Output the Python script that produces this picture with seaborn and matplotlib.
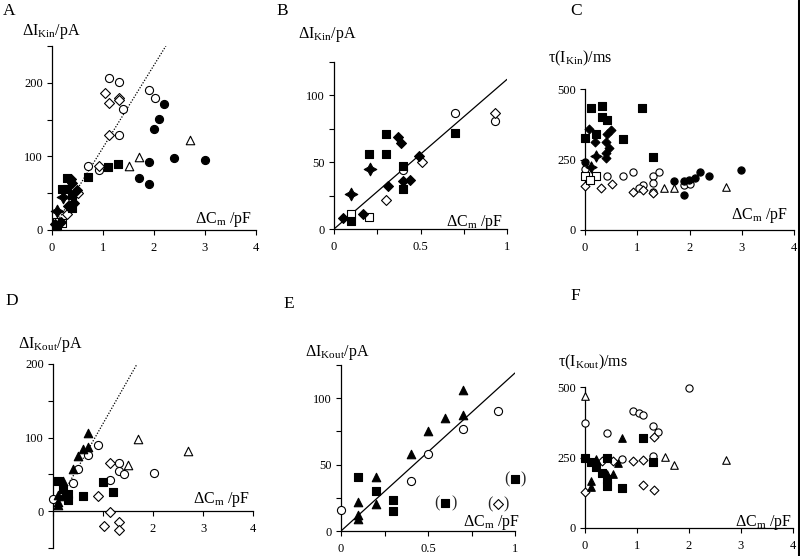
import numpy as np
import matplotlib
matplotlib.use("Agg")
import matplotlib.pyplot as plt
import seaborn as sns
from matplotlib.lines import Line2D

# ---------------- data: ΔI_Kin vs ΔCm (panels A and B) ----------------
kin_fsq_cm = [0.30, 0.20, 0.30, 0.40, 0.40, 0.10, 0.70, 1.10, 1.30]
kin_fsq_dI = [71, 56, 56, 47, 30, 6, 72, 85, 89]
kin_osq_cm = [0.10, 0.20]
kin_osq_dI = [11, 9]
kin_fdi_cm = [0.05, 0.17, 0.31, 0.37, 0.39, 0.40, 0.44, 0.49]
kin_fdi_dI = [8, 11, 32, 69, 64, 36, 37, 55]
kin_odi_cm = [0.30, 0.51, 0.93, 1.03, 1.12, 1.31, 1.32, 1.11]
kin_odi_dI = [22, 50, 87, 186, 173, 180, 176, 129]
kin_oci_cm = [0.40, 0.70, 0.93, 1.11, 1.31, 1.91, 2.01, 1.40, 1.31]
kin_oci_dI = [44, 87, 81, 206, 201, 190, 180, 165, 129]
kin_fci_cm = [2.20, 2.10, 2.00, 2.40, 3.00, 1.90, 1.70, 1.90]
kin_fci_dI = [171, 151, 137, 98, 95, 92, 71, 62]
kin_otr_cm = [2.70, 1.70, 1.50]
kin_otr_dI = [122, 99, 87]
kin_star_cm = [0.10, 0.21]
kin_star_dI = [26, 45]
kin_slope = 112  # pA / pF

# ---------------- data: tau(I_Kin) vs ΔCm (panel C) ----------------
tkin_fsq_cm = [0.11, 0.32, 0.32, 0.43, 0.22, 0.00, 0.72, 1.10, 1.31]
tkin_fsq_tau = [432, 438, 400, 389, 340, 326, 323, 432, 258]
tkin_fdi_cm = [0.08, 0.20, 0.40, 0.49, 0.43, 0.46, 0.40, 0.40]
tkin_fdi_tau = [359, 312, 312, 353, 341, 290, 272, 255]
tkin_star_cm = [0.22, 0.11]
tkin_star_tau = [261, 224]
tkin_fci_cm = [1.71, 1.89, 1.99, 2.10, 2.20, 2.38, 2.99, 1.89, 0.00]
tkin_fci_tau = [175, 172, 178, 186, 205, 192, 211, 124, 240]
tkin_oci_cm = [0.00, 0.43, 0.72, 0.92, 1.11, 1.31, 1.41, 1.31, 1.03, 1.89, 2.00, 1.31]
tkin_oci_tau = [216, 190, 190, 205, 160, 190, 205, 166, 150, 158, 162, 136]
tkin_odi_cm = [0.00, 0.31, 0.51, 0.92, 1.11, 1.31]
tkin_odi_tau = [156, 150, 162, 133, 142, 130]
tkin_osq_cm = [0.00, 0.22, 0.10]
tkin_osq_tau = [190, 193, 178]
tkin_otr_cm = [1.51, 1.71, 2.69]
tkin_otr_tau = [148, 148, 152]

# ---------------- data: ΔI_Kout vs ΔCm (panels D and E) ----------------
kout_ftr_cm = [0.70, 0.70, 0.60, 0.50, 0.40, 0.20, 0.10, 0.20, 0.10, 0.10]
kout_ftr_dI = [106, 87, 85, 75, 58, 41, 22, 20, 12, 9]
kout_fsq_cm = [0.10, 0.20, 0.30, 0.30, 0.60, 1.00, 1.20]
kout_fsq_dI = [41, 30, 23, 15, 21, 39, 26]
kout_fsq_excluded = [False, False, False, False, True, True, False]
kout_oci_cm = [0.00, 0.40, 0.50, 0.70, 0.90, 1.13, 1.31, 1.31, 1.41, 2.02]
kout_oci_dI = [16, 38, 58, 77, 90, 42, 66, 55, 51, 52]
kout_odi_cm = [0.90, 1.13, 1.13, 1.01, 1.32, 1.32]
kout_odi_dI = [20, 65, -1, -20, -15, -25]
kout_odi_excluded = [True, False, False, False, False, False]
kout_otr_cm = [1.70, 2.70, 1.50]
kout_otr_dI = [98, 82, 63]
kout_slope = 119  # pA / pF

# ---------------- data: tau(I_Kout) vs ΔCm (panel F) ----------------
tkout_fsq_cm = [0.00, 0.11, 0.21, 0.32, 0.43, 0.43, 0.43, 0.72, 1.12, 1.31]
tkout_fsq_tau = [250, 235, 218, 194, 247, 174, 149, 141, 320, 235]
tkout_ftr_cm = [0.72, 0.11, 0.11, 0.22, 0.43, 0.53, 0.63]
tkout_ftr_tau = [318, 165, 145, 243, 190, 192, 232]
tkout_oci_cm = [0.00, 0.43, 0.92, 1.03, 1.12, 1.31, 1.41, 1.31, 0.72, 2.00]
tkout_oci_tau = [373, 338, 415, 408, 402, 361, 341, 256, 244, 498]
tkout_odi_cm = [0.00, 0.32, 0.53, 0.92, 1.12, 1.12, 1.33, 1.33]
tkout_odi_tau = [126, 238, 238, 239, 241, 153, 133, 324]
tkout_otr_cm = [0.00, 1.53, 1.71, 2.72]
tkout_otr_tau = [467, 251, 224, 241]

# ---------------- ticks / labels ----------------
cm4_ticks = [0, 1, 2, 3, 4]
cm4_labels = ["0", "1", "2", "3", "4"]
cm4_labels_D = ["", "", "2", "3", "4"]
cm1_ticks = [0, 0.25, 0.5, 0.75, 1]
cm1_labels = ["0", "", "0.5", "", "1"]
dIA_ticks = [0, 50, 100, 150, 200, 250]
dIA_labels = ["0", "", "100", "", "200", ""]
dID_ticks = [-50, 0, 50, 100, 150, 200]
dID_labels = ["", "0", "", "100", "", "200"]
dIB_ticks = [0, 25, 50, 75, 100, 125]
dIB_labels = ["0", "", "50", "", "100", ""]
tau_ticks = [0, 250, 500]
tau_labels = ["0", "250", "500"]

panel_letters = ["A", "B", "C", "D", "E", "F"]
lab_dIkin = r"ΔI$_{\rm Kin}$/pA"
lab_dIkout = r"ΔI$_{\rm Kout}$/pA"
lab_tkin = r"τ(I$_{\rm Kin}$)/ms"
lab_tkout = r"τ(I$_{\rm Kout}$)/ms"
lab_cm = r"ΔC$_{\rm m}$ /pF"

# ---------------- style ----------------
sns.set_theme(style="ticks")
plt.rcParams["font.family"] = ["Liberation Serif", "DejaVu Serif"]
plt.rcParams["mathtext.fontset"] = "custom"
plt.rcParams["mathtext.rm"] = "Liberation Serif"
plt.rcParams["mathtext.it"] = "Liberation Serif:italic"
plt.rcParams["mathtext.bf"] = "Liberation Serif:bold"

W, H = 800, 556
fig = plt.figure(figsize=(W / 100, H / 100), dpi=100)
fig.patch.set_facecolor("white")

STY = {
    "fsq": ("s", "black"), "osq": ("s", "white"),
    "fdi": ("D", "black"), "odi": ("D", "white"),
    "fci": ("o", "black"), "oci": ("o", "white"),
    "ftr": ("^", "black"), "otr": ("^", "white"),
    "star": ((4, 1, 0), "black"),
}


def add_ax(x0, x1, ytop, ybot):
    ax = fig.add_axes([x0 / W, 1 - ybot / H, (x1 - x0) / W, (ybot - ytop) / H])
    ax.set_facecolor("none")
    return ax


def pts(ax, xs, ys, kind, s):
    mk, face = STY[kind]
    size = s
    if kind == "star":
        size = s * 2.4
    elif kind in ("fdi", "odi"):
        size = s * 0.75
    elif kind in ("ftr", "otr"):
        size = s * 1.1
    sns.scatterplot(x=list(xs), y=list(ys), ax=ax, marker=mk, s=size, color=face,
                    edgecolor="black", linewidth=0.8, clip_on=False, zorder=3,
                    legend=False)


def fitline(ax, slope, xmax, ls):
    fx = np.array([0.0, xmax])
    sns.lineplot(x=fx, y=slope * fx, ax=ax, color="black", lw=0.9,
                 linestyle=ls, zorder=2, legend=False)


def style_ax(ax, xlim, ylim, xt, xtl, yt, ytl):
    ax.set_xlim(xlim)
    ax.set_ylim(ylim)
    ax.set_xticks(xt)
    ax.set_xticklabels(xtl)
    ax.set_yticks(yt)
    ax.set_yticklabels(ytl)
    ax.set_xlabel("")
    ax.set_ylabel("")
    for s in ["top", "right"]:
        ax.spines[s].set_visible(False)
    for s in ["left", "bottom"]:
        ax.spines[s].set_linewidth(0.9)
        ax.spines[s].set_color("black")
    ax.tick_params(direction="out", length=3.5, width=0.8, labelsize=9,
                   colors="black")
    ax.tick_params(axis="y", pad=3)
    ax.tick_params(axis="x", pad=5)


def ftext(x, y, s, size=11, ha="left"):
    fig.text(x / W, 1 - y / H, s, fontsize=size, ha=ha, va="baseline",
             color="black")


S_BIG = 34
S_SMALL = 27

# ---------- Panel A ----------
axA = add_ax(52, 256, 46, 230)
fitline(axA, kin_slope, 250 / kin_slope, (0, (1, 1.3)))
pts(axA, kin_otr_cm, kin_otr_dI, "otr", S_BIG)
pts(axA, kin_oci_cm, kin_oci_dI, "oci", S_BIG)
pts(axA, kin_odi_cm, kin_odi_dI, "odi", S_BIG)
pts(axA, kin_osq_cm, kin_osq_dI, "osq", S_BIG)
pts(axA, kin_fci_cm, kin_fci_dI, "fci", S_BIG)
pts(axA, kin_fsq_cm, kin_fsq_dI, "fsq", S_BIG)
pts(axA, kin_fdi_cm, kin_fdi_dI, "fdi", S_BIG)
pts(axA, kin_star_cm, kin_star_dI, "star", S_BIG)
style_ax(axA, (0, 4), (0, 250), cm4_ticks, cm4_labels, dIA_ticks, dIA_labels)

# ---------- Panel B ----------
axB = add_ax(334, 507, 62, 229)
fitline(axB, kin_slope, 1.0, "-")


def sel(xs, ys, xmax):
    keep = [i for i, v in enumerate(xs) if v <= xmax + 1e-9]
    return [xs[i] for i in keep], [ys[i] for i in keep]


for kind, xs, ys in [("oci", kin_oci_cm, kin_oci_dI), ("odi", kin_odi_cm, kin_odi_dI),
                     ("osq", kin_osq_cm, kin_osq_dI), ("fsq", kin_fsq_cm, kin_fsq_dI),
                     ("fdi", kin_fdi_cm, kin_fdi_dI), ("star", kin_star_cm, kin_star_dI)]:
    sx, sy = sel(xs, ys, 1.0)
    if sx:
        pts(axB, sx, sy, kind, S_BIG)
style_ax(axB, (0, 1), (0, 125), cm1_ticks, cm1_labels, dIB_ticks, dIB_labels)

# ---------- Panel C ----------
axC = add_ax(585, 794, 89, 230)
pts(axC, tkin_otr_cm, tkin_otr_tau, "otr", S_SMALL)
pts(axC, tkin_oci_cm, tkin_oci_tau, "oci", S_SMALL)
pts(axC, tkin_odi_cm, tkin_odi_tau, "odi", S_SMALL)
pts(axC, tkin_osq_cm, tkin_osq_tau, "osq", S_SMALL)
pts(axC, tkin_fci_cm, tkin_fci_tau, "fci", S_SMALL)
pts(axC, tkin_fsq_cm, tkin_fsq_tau, "fsq", S_SMALL)
pts(axC, tkin_fdi_cm, tkin_fdi_tau, "fdi", S_SMALL)
pts(axC, tkin_star_cm, tkin_star_tau, "star", S_SMALL)
style_ax(axC, (0, 4), (0, 500), cm4_ticks, cm4_labels, tau_ticks, tau_labels)

# ---------- Panel D ----------
axD = add_ax(53, 253, 364, 548)
fitline(axD, kout_slope, 200 / kout_slope, (0, (1, 1.3)))
pts(axD, kout_otr_cm, kout_otr_dI, "otr", S_BIG)
pts(axD, kout_oci_cm, kout_oci_dI, "oci", S_BIG)
pts(axD, kout_odi_cm, kout_odi_dI, "odi", S_BIG)
pts(axD, kout_fsq_cm, kout_fsq_dI, "fsq", S_BIG)
pts(axD, kout_ftr_cm, kout_ftr_dI, "ftr", S_BIG)
style_ax(axD, (0, 4), (-50, 200), cm4_ticks, cm4_labels_D, dID_ticks, dID_labels)
axD.spines["bottom"].set_position(("data", 0))

# ---------- Panel E ----------
axE = add_ax(341, 515, 365, 531)
fitline(axE, kout_slope, 1.0, "-")
for kind, xs, ys in [("oci", kout_oci_cm, kout_oci_dI), ("odi", kout_odi_cm, kout_odi_dI),
                     ("fsq", kout_fsq_cm, kout_fsq_dI), ("ftr", kout_ftr_cm, kout_ftr_dI)]:
    sx, sy = sel(xs, ys, 1.0)
    keep = [(a, b) for a, b in zip(sx, sy) if b >= 0]
    if keep:
        pts(axE, [k[0] for k in keep], [k[1] for k in keep], kind, S_BIG)
for xs, ys, exc in [(kout_fsq_cm, kout_fsq_dI, kout_fsq_excluded),
                    (kout_odi_cm, kout_odi_dI, kout_odi_excluded)]:
    for xv, yv, e in zip(xs, ys, exc):
        if e and xv <= 1.0 + 1e-9:
            axE.annotate("(", xy=(xv, yv), xytext=(-8, 0), textcoords="offset pixels",
                         ha="center", va="center", fontsize=11.5, annotation_clip=False)
            axE.annotate(")", xy=(xv, yv), xytext=(8.5, 0), textcoords="offset pixels",
                         ha="center", va="center", fontsize=11.5, annotation_clip=False)
style_ax(axE, (0, 1), (0, 125), cm1_ticks, cm1_labels, dIB_ticks, dIB_labels)

# ---------- Panel F ----------
axF = add_ax(585, 793, 387, 528)
pts(axF, tkout_otr_cm, tkout_otr_tau, "otr", S_SMALL)
pts(axF, tkout_oci_cm, tkout_oci_tau, "oci", S_SMALL)
pts(axF, tkout_odi_cm, tkout_odi_tau, "odi", S_SMALL)
pts(axF, tkout_fsq_cm, tkout_fsq_tau, "fsq", S_SMALL)
pts(axF, tkout_ftr_cm, tkout_ftr_tau, "ftr", S_SMALL)
style_ax(axF, (0, 4), (0, 500), cm4_ticks, cm4_labels, tau_ticks, tau_labels)

# ---------- texts ----------
ftext(3, 15, panel_letters[0], 12.5)
ftext(276, 15, panel_letters[1], 12.5)
ftext(570, 15, panel_letters[2], 12.5)
ftext(5, 305, panel_letters[3], 12.5)
ftext(283, 308, panel_letters[4], 12.5)
ftext(570, 300, panel_letters[5], 12.5)

ftext(22, 35, lab_dIkin, 11.5)
ftext(298, 38, lab_dIkin, 11.5)
ftext(548, 62, lab_tkin, 11.5)
ftext(18, 348, lab_dIkout, 11.5)
ftext(305, 356, lab_dIkout, 11.5)
ftext(558, 366, lab_tkout, 11.5)

ftext(252, 223, lab_cm, 11.5, ha="right")
ftext(503, 226, lab_cm, 11.5, ha="right")
ftext(788, 219, lab_cm, 11.5, ha="right")
ftext(250, 503, lab_cm, 11.5, ha="right")
ftext(520, 526, lab_cm, 11.5, ha="right")
ftext(792, 526, lab_cm, 11.5, ha="right")

# scan border on the right edge
fig.add_artist(Line2D([798.5 / W, 798.5 / W], [0, 1], color="black", lw=2.2,
                      transform=fig.transFigure))

fig.savefig("out.png", dpi=100, facecolor="white")
